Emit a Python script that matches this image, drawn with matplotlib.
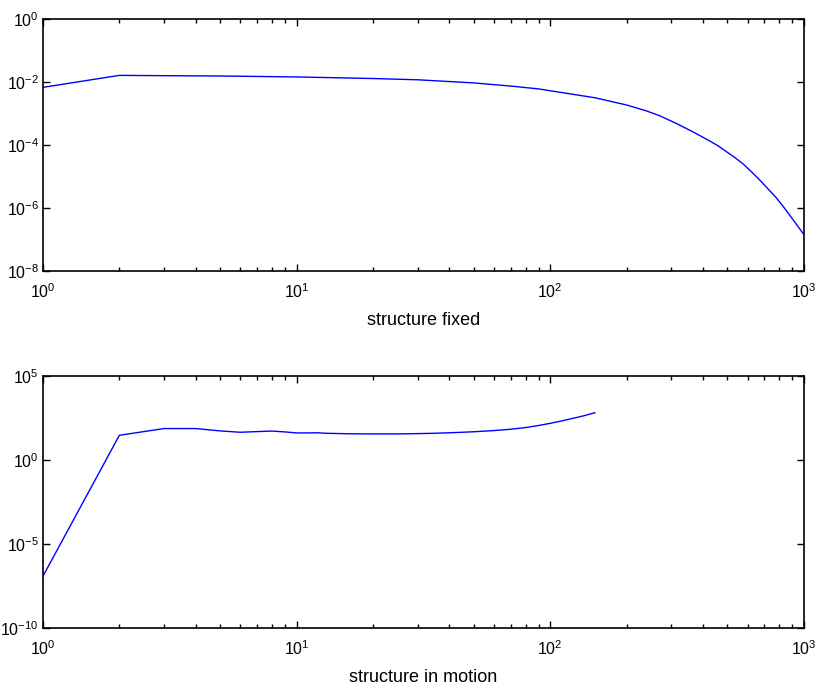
import matplotlib
matplotlib.use("Agg")
import matplotlib.pyplot as plt
from matplotlib.ticker import LogLocator, NullLocator, LogFormatterSciNotation

plt.rcParams["font.family"] = ["Liberation Sans", "DejaVu Sans"]
plt.rcParams["mathtext.fontset"] = "custom"
plt.rcParams["mathtext.rm"] = "Liberation Sans"
plt.rcParams["mathtext.it"] = "Liberation Sans:italic"
plt.rcParams["mathtext.default"] = "regular"

# top panel: structure fixed (log10 of y)
fixed_x = [1, 2, 3, 5, 10, 20, 30, 50, 70, 90, 110, 150, 200, 240, 270, 315,
           365, 425, 460, 495, 535, 576, 620, 670, 720, 780, 840, 907, 1000]
fixed_log_y = [-2.17, -1.79, -1.80, -1.81, -1.84, -1.89, -1.93, -2.03, -2.13,
               -2.22, -2.33, -2.50, -2.73, -2.92, -3.07, -3.32, -3.58, -3.87,
               -4.03, -4.21, -4.40, -4.60, -4.84, -5.11, -5.38, -5.68, -6.01,
               -6.37, -6.84]

# bottom panel: structure in motion
motion_x = [1, 2, 3, 4, 5, 6, 7, 8, 9, 10, 11, 12, 13, 14, 16, 20, 25, 30,
            35, 40, 45, 50, 60, 70, 80, 90, 100, 110, 120, 135, 150]
motion_log_y = [-6.90, 1.46, 1.86, 1.86, 1.72, 1.64, 1.68, 1.71, 1.66, 1.60,
                1.60, 1.61, 1.58, 1.57, 1.55, 1.54, 1.54, 1.56, 1.58, 1.61,
                1.64, 1.67, 1.74, 1.82, 1.92, 2.04, 2.17, 2.30, 2.43, 2.61,
                2.80]

fixed_y = [10 ** v for v in fixed_log_y]
motion_y = [10 ** v for v in motion_log_y]

fig = plt.figure(figsize=(8.18, 6.93), dpi=100)
ax1 = fig.add_axes([0.0526, 0.609, 0.930, 0.3636])
ax2 = fig.add_axes([0.0526, 0.0934, 0.930, 0.3645])


def style(ax, ylim, yticks, xlabel):
    ax.set_xscale("log")
    ax.set_yscale("log")
    ax.set_xlim(1, 1000)
    ax.set_ylim(*ylim)
    ax.set_yticks(yticks)
    ax.yaxis.set_minor_locator(NullLocator())
    ax.xaxis.set_major_locator(LogLocator(base=10))
    ax.xaxis.set_minor_locator(LogLocator(base=10, subs=range(2, 10)))
    ax.xaxis.set_major_formatter(LogFormatterSciNotation())
    ax.yaxis.set_major_formatter(LogFormatterSciNotation())
    ax.tick_params(which="both", direction="in", top=True, right=True,
                   labelsize=11.5, width=1.0)
    ax.tick_params(which="major", length=5)
    ax.tick_params(which="minor", length=3)
    ax.tick_params(axis="x", pad=8)
    ax.tick_params(axis="y", pad=3)
    for s in ax.spines.values():
        s.set_linewidth(1.2)
    ax.set_xlabel(xlabel, fontsize=13, labelpad=8)


ax1.plot(fixed_x, fixed_y, color="#0000ff", linewidth=1.0)
style(ax1, (1e-8, 1), [1e-8, 1e-6, 1e-4, 1e-2, 1], "structure fixed")

ax2.plot(motion_x, motion_y, color="#0000ff", linewidth=1.0)
style(ax2, (1e-10, 1e5), [1e-10, 1e-5, 1, 1e5], "structure in motion")

fig.savefig("out.png", dpi=100)
plt.close(fig)
